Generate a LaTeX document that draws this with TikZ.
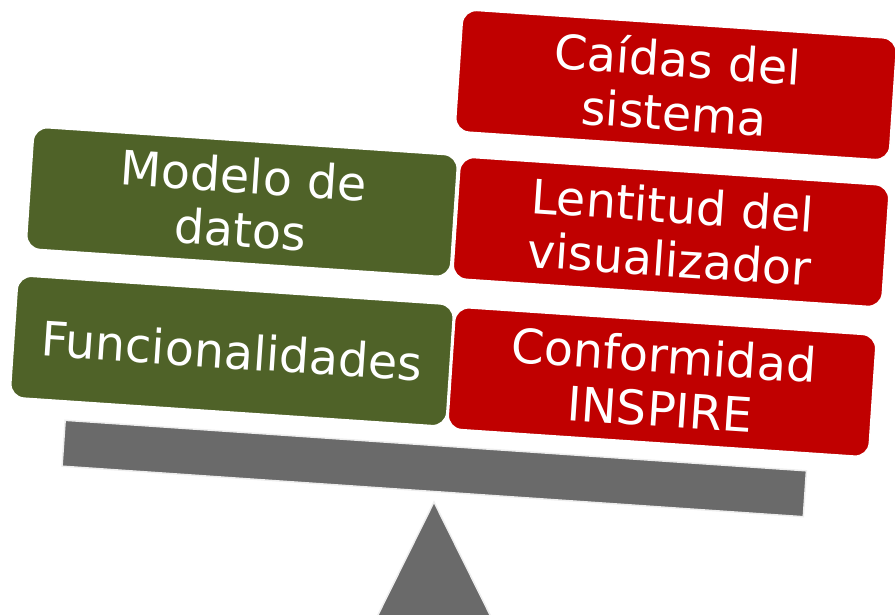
\documentclass[tikz,border=0pt]{standalone}
\usepackage{fontspec}
\newfontfamily\vfont{DejaVu Sans}
\definecolor{boxred}{HTML}{C00000}
\definecolor{boxgreen}{HTML}{4F6228}
\definecolor{beamgray}{HTML}{6A6A6A}
\definecolor{edgegray}{HTML}{EEEEEE}
\begin{document}
\begin{tikzpicture}[x=1pt,y=-1pt,
  card/.style={rectangle, rounded corners=14pt, draw=white, line width=1.5pt,
    rotate=-3.85, minimum height=122pt, inner sep=0pt, align=center,
    text=white, font=\vfont\fontsize{47.5}{54}\selectfont},
  pro/.style={card, fill=boxgreen},
  con/.style={card, fill=boxred},
  beamstyle/.style={rectangle, fill=beamgray, draw=edgegray, line width=1.5pt,
    rotate=-3.9, minimum width=743pt, minimum height=46pt, inner sep=0pt},
  fulcrum/.style={fill=beamgray, draw=edgegray, line width=1.5pt}]
\useasboundingbox (0,0) rectangle (895,615);
\clip (0,0) rectangle (895,615);
\coordinate (apex) at (434,502);
\coordinate (baseL) at (370.5,630);
\coordinate (baseR) at (497.5,630);
\draw[fulcrum] (apex) -- (baseL) -- (baseR) -- cycle;
\node[beamstyle] (beam) at (434.25,468.5) {};
\node[pro, minimum width=425pt] (modelo) at (242,202) {Modelo de\\datos};
\node[pro, minimum width=437pt] (func) at (232,351) {Funcionalidades};
\node[con, minimum width=435pt] (caidas) at (676,85) {Caídas del\\sistema};
\node[con, minimum width=430pt] (lentitud) at (671,232) {Lentitud del\\visualizador};
\node[con, minimum width=422pt] (conf) at (662,382) {Conformidad\\INSPIRE};
\end{tikzpicture}
\end{document}
